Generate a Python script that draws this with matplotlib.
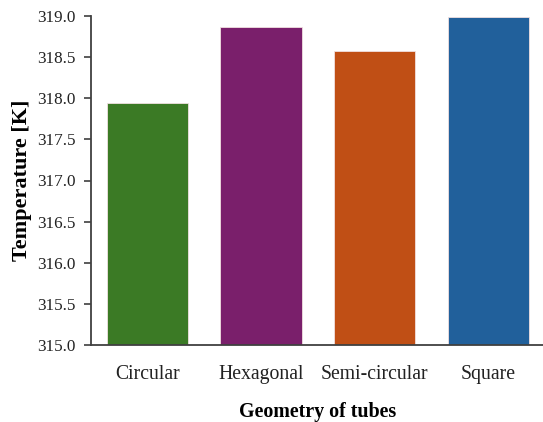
import matplotlib
matplotlib.use("Agg")
import matplotlib.pyplot as plt

categories = ["Circular", "Hexagonal", "Semi-circular", "Square"]
values = [317.94, 318.87, 318.58, 318.99]
colors = ["#3B7A25", "#7A1F6B", "#C04F15", "#21609B"]
yticks = [315.0, 315.5, 316.0, 316.5, 317.0, 317.5, 318.0, 318.5, 319.0]

plt.rcParams["font.family"] = ["Liberation Serif", "DejaVu Serif"]

fig = plt.figure(figsize=(5.43, 4.22), dpi=100)
ax = fig.add_axes([91/543, 77/422, 454/543, 329/422])

x = range(len(categories))
ax.bar(x, values, width=0.714, color=colors, edgecolor="#f0e0e0", linewidth=0.6)
ax.set_ylim(315.0, 319.0)
ax.set_xlim(-0.497, 3.5)
ax.set_yticks(yticks)
ax.set_yticklabels([f"{t:.1f}" for t in yticks], fontsize=12.3, color="#222222")
ax.set_xticks(list(x))
ax.set_xticklabels(categories, fontsize=14.2, color="#222222")
ax.tick_params(axis="x", length=0, pad=14.5)
ax.tick_params(axis="y", direction="out", length=5, width=1.2, color="#404040", pad=6)

for s in ["top", "right"]:
    ax.spines[s].set_visible(False)
for s in ["left", "bottom"]:
    ax.spines[s].set_color("#404040")
    ax.spines[s].set_linewidth(1.3)

ax.set_xlabel("Geometry of tubes", fontsize=14.4, fontweight="bold", labelpad=13)
ax.set_ylabel("Temperature [K]", fontsize=16, fontweight="bold", labelpad=4)

fig.savefig("out.png", dpi=100)
